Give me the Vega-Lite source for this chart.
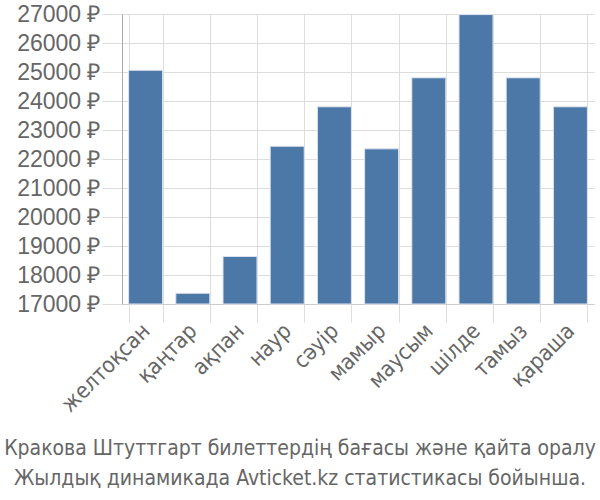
{
  "$schema": "https://vega.github.io/schema/vega-lite/v6.json",
  "width": 472,
  "height": 290,
  "autosize": {"type": "none"},
  "padding": {"left": 122, "top": 14, "right": 6, "bottom": 196},
  "background": "white",
  "data": {
    "values": [
      {"month": "желтоқсан", "price": 25060},
      {"month": "қаңтар", "price": 17370},
      {"month": "ақпан", "price": 18640},
      {"month": "наур", "price": 22440},
      {"month": "сәуір", "price": 23800},
      {"month": "мамыр", "price": 22350},
      {"month": "маусым", "price": 24800},
      {"month": "шілде", "price": 26980},
      {"month": "тамыз", "price": 24800},
      {"month": "қараша", "price": 23800}
    ]
  },
  "title": {
    "text": ["Кракова Штуттгарт билеттердің бағасы және қайта оралу", "Жылдық динамикада Avticket.kz статистикасы бойынша."],
    "orient": "bottom",
    "anchor": "middle",
    "dx": -58,
    "offset": 22,
    "font": "DejaVu Sans Condensed",
    "fontSize": 21,
    "fontWeight": "normal",
    "color": "#666666",
    "lineHeight": 30
  },
  "mark": {"type": "bar", "color": "#4c78a8", "stroke": "#dce4ee", "strokeWidth": 1},
  "encoding": {
    "x": {
      "field": "month",
      "type": "nominal",
      "sort": null,
      "scale": {"paddingInner": 0.28, "paddingOuter": 0.14},
      "axis": {
        "title": null,
        "labelAngle": -45,
        "labelAlign": "right",
        "labelBaseline": "middle",
        "labelFont": "DejaVu Sans Condensed",
        "labelFontSize": 22,
        "labelColor": "#666666",
        "labelPadding": 5,
        "tickBand": "extent",
        "tickSize": 18,
        "tickColor": "#dddddd",
        "gridColor": "#dddddd",
        "grid": true,
        "domainColor": "#cccccc"
      }
    },
    "y": {
      "field": "price",
      "type": "quantitative",
      "scale": {"domain": [17000, 27000], "zero": false, "nice": false},
      "axis": {
        "title": null,
        "values": [17000, 18000, 19000, 20000, 21000, 22000, 23000, 24000, 25000, 26000, 27000],
        "labelExpr": "datum.value + ' ₽'",
        "labelFont": "Liberation Sans",
        "labelFontSize": 23,
        "labelColor": "#666666",
        "labelPadding": 2,
        "tickSize": 20,
        "tickColor": "#dddddd",
        "gridColor": "#dddddd",
        "domainColor": "#aaaaaa"
      }
    },
    "y2": {"datum": 17000}
  },
  "config": {"view": {"stroke": null}}
}
